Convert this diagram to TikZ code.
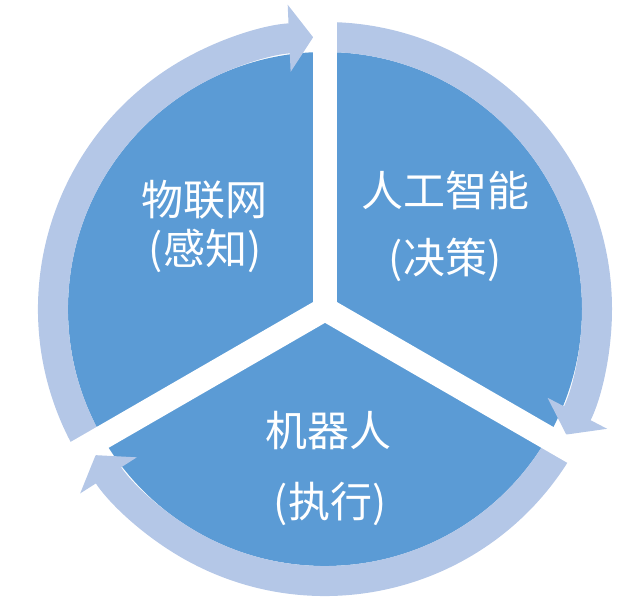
\documentclass[tikz,border=0pt]{standalone}
\usepackage{fontspec}
\newfontfamily\cjk{Noto Sans CJK SC}
\usetikzlibrary{arrows.meta}
\definecolor{pieblue}{HTML}{5B9BD5}
\definecolor{ringblue}{HTML}{B4C7E7}
\begin{document}
\begin{tikzpicture}[x=1bp,y=1bp,
        ring/.style={draw=ringblue,line width=30bp,-{Triangle[length=24bp,width=66bp]}},
        gap/.style={draw=white,line width=24bp},
        lbl/.style={text=white,font=\cjk\fontsize{42bp}{50bp}\selectfont,inner sep=0pt}]
        \useasboundingbox (0,0) rectangle (640,603);
        \coordinate (c) at (325,294);
        \fill[pieblue] (c) circle[radius=257];
        \draw[ring] (c) ++(210:272) arc[start angle=210,end angle=92.5,radius=272];
        \draw[ring] (c) ++(90:272) arc[start angle=90,end angle=-27.5,radius=272];
        \draw[ring] (c) ++(-30:272) arc[start angle=-30,end angle=-147.5,radius=272];
        \draw[gap] (c) -- ++(90:310);
        \draw[gap] (c) -- ++(210:310);
        \draw[gap] (c) -- ++(-30:310);
        \node[lbl] (iot) at (204,403) {物联网};
        \node[lbl] (iotsub) at (205,352) {(感知)};
        \node[lbl] (ai) at (445,413) {人工智能};
        \node[lbl] (aisub) at (445,343) {(决策)};
        \node[lbl] (robot) at (328,172) {机器人};
        \node[lbl] (robotsub) at (330,99) {(执行)};
\end{tikzpicture}
\end{document}
